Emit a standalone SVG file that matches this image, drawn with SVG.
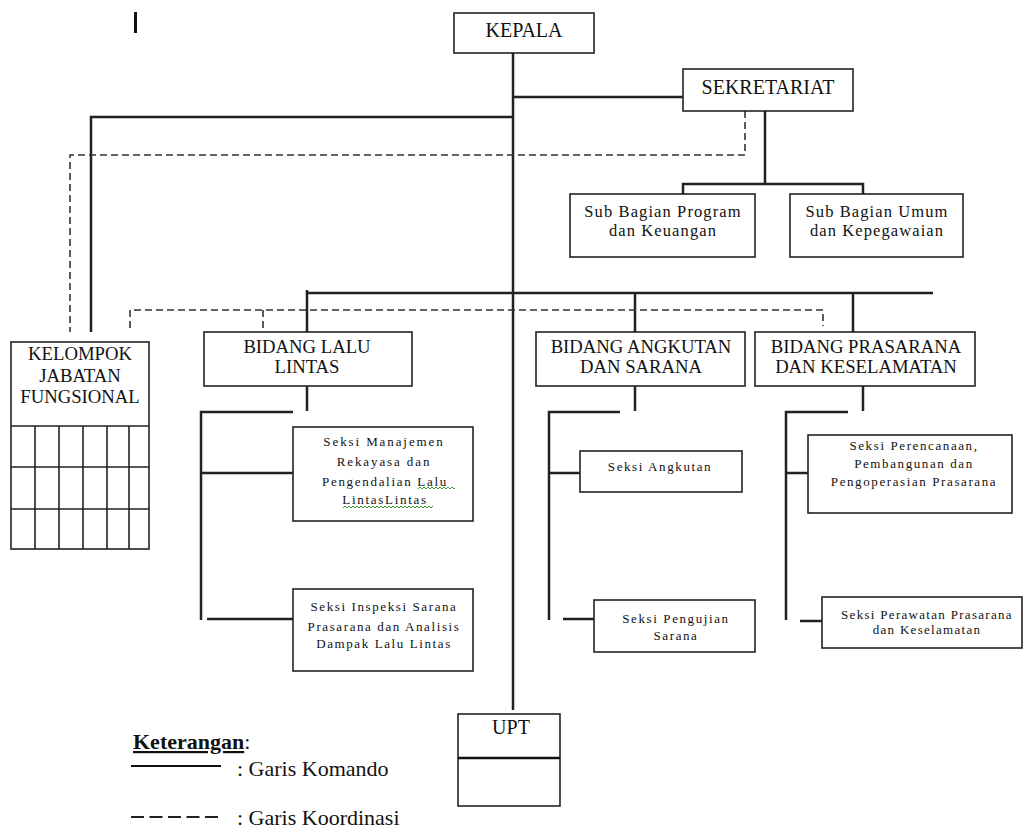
<svg xmlns="http://www.w3.org/2000/svg" width="1027" height="829" viewBox="0 0 1027 829">
<style>
.box{fill:#fff;stroke:#222;stroke-width:1.6}
.cmd{fill:none;stroke:#222;stroke-width:2.5}
.crd{fill:none;stroke:#333;stroke-width:1.6;stroke-dasharray:7 4}
text{fill:#111}
.t20{font-size:20px;text-anchor:middle}
.t19{font-size:18.7px;text-anchor:middle}
.t16{font-size:16.5px;text-anchor:middle;letter-spacing:1.1px}
.t13{font-size:13px;text-anchor:middle;letter-spacing:1.6px}
.lg{font-size:22px}
.sq{fill:none;stroke:#3a9a3a;stroke-width:1}
</style>
<rect x="134" y="12" width="3" height="21" fill="#111"/>
<g id="connectors">
<path class="cmd" d="M513 53V710"/>
<path class="cmd" d="M513 97H683"/>
<path class="cmd" d="M513 117H91V332"/>
<path class="cmd" d="M765 111V184M683 194V184H863V194"/>
<path class="crd" d="M745 111V155H70V332"/>
<path class="cmd" d="M307 290V332M307 293H933M635 293V332M853 293V332"/>
<path class="crd" d="M130 328V310H823V326M263 310V328"/>
<path class="cmd" d="M307 386V411M293 412H201V620M201 473H293M207 619H293"/>
<path class="cmd" d="M635 386V411M620 412H549V620M549 473H580M563 619H594"/>
<path class="cmd" d="M863 386V411M848 412H786V620M786 473H808M800 621H822"/>
</g>
<g font-family="'Liberation Serif', 'Tinos', 'DejaVu Serif', serif">
<g id="kepala"><rect class="box" x="454" y="13" width="140" height="40"/><text class="t20" x="524" y="37">KEPALA</text></g>
<g id="sekretariat"><rect class="box" x="683" y="69" width="170" height="42"/><text class="t20" x="768" y="94">SEKRETARIAT</text></g>
<g id="subbag-program"><rect class="box" x="570" y="194" width="185" height="63"/><text class="t16" x="663" y="217">Sub Bagian Program</text><text class="t16" x="663" y="236">dan Keuangan</text></g>
<g id="subbag-umum"><rect class="box" x="790" y="194" width="173" height="63"/><text class="t16" x="877" y="217">Sub Bagian Umum</text><text class="t16" x="877" y="236">dan Kepegawaian</text></g>
<g id="kelompok">
<rect class="box" x="11" y="342" width="138" height="207"/>
<path fill="none" stroke="#222" stroke-width="1.6" d="M11 426H149M11 467H149M11 509H149M35 426V549M59 426V549M83 426V549M107 426V549M129 426V549"/>
<text class="t19" x="80" y="360">KELOMPOK</text><text class="t19" x="80" y="382">JABATAN</text><text class="t19" x="80" y="403">FUNGSIONAL</text>
</g>
<g id="bidang-lalu"><rect class="box" x="204" y="332" width="208" height="54"/><text class="t19" x="307" y="353">BIDANG LALU</text><text class="t19" x="307" y="373">LINTAS</text></g>
<g id="bidang-angkutan"><rect class="box" x="536" y="332" width="209" height="54"/><text class="t19" x="641" y="353">BIDANG ANGKUTAN</text><text class="t19" x="641" y="373">DAN SARANA</text></g>
<g id="bidang-prasarana"><rect class="box" x="755" y="332" width="220" height="54"/><text class="t19" x="866" y="353">BIDANG PRASARANA</text><text class="t19" x="866" y="373">DAN KESELAMATAN</text></g>
<g id="seksi-manajemen"><rect class="box" x="293" y="427" width="180" height="94"/>
<text class="t13" x="384" y="446" style="letter-spacing:1.9px">Seksi Manajemen</text>
<text class="t13" x="384" y="466" style="letter-spacing:1.9px">Rekayasa dan</text>
<text class="t13" x="385" y="486" style="letter-spacing:1.7px">Pengendalian Lalu</text>
<text class="t13" x="385" y="504" style="letter-spacing:1.7px">LintasLintas</text>
<path class="sq" d="M418 489l2-2 2 2 2-2 2 2 2-2 2 2 2-2 2 2 2-2 2 2 2-2 2 2 2-2 2 2 2-2 2 2 2-2 2 2 1-1"/>
<path class="sq" d="M343 508l2-2 2 2 2-2 2 2 2-2 2 2 2-2 2 2 2-2 2 2 2-2 2 2 2-2 2 2 2-2 2 2 2-2 2 2 2-2 2 2 2-2 2 2 2-2 2 2 2-2 2 2 2-2 2 2 2-2 2 2 2-2 2 2 2-2 2 2 2-2 2 2 2-2 2 2 2-2 2 2 2-2 2 2 2-2 2 2 2-2"/>
</g>
<g id="seksi-inspeksi"><rect class="box" x="293" y="589" width="180" height="82"/>
<text class="t13" x="384" y="611">Seksi Inspeksi Sarana</text>
<text class="t13" x="384" y="631">Prasarana dan Analisis</text>
<text class="t13" x="384" y="648">Dampak Lalu Lintas</text></g>
<g id="seksi-angkutan"><rect class="box" x="580" y="451" width="162" height="41"/><text class="t13" x="660" y="471">Seksi Angkutan</text></g>
<g id="seksi-pengujian"><rect class="box" x="594" y="600" width="161" height="52"/><text class="t13" x="676" y="623">Seksi Pengujian</text><text class="t13" x="676" y="640">Sarana</text></g>
<g id="seksi-perencanaan"><rect class="box" x="808" y="435" width="204" height="78"/>
<text class="t13" x="914" y="450">Seksi Perencanaan,</text>
<text class="t13" x="914" y="468">Pembangunan dan</text>
<text class="t13" x="914" y="486">Pengoperasian Prasarana</text></g>
<g id="seksi-perawatan"><rect class="box" x="822" y="597" width="200" height="51"/>
<text class="t13" x="927" y="619" style="letter-spacing:1.3px">Seksi Perawatan Prasarana</text>
<text class="t13" x="927" y="634" style="letter-spacing:1.3px">dan Keselamatan</text></g>
<g id="upt"><rect class="box" x="458" y="714" width="102" height="92"/><path d="M458 758H560" stroke="#111" stroke-width="2.6"/><text class="t20" x="511" y="734">UPT</text></g>
<g id="legend">
<text class="lg" x="133" y="749" font-weight="bold"><tspan text-decoration="underline">Keterangan</tspan><tspan font-weight="normal">:</tspan></text>
<path d="M131 766H221" stroke="#111" stroke-width="2.2"/>
<text class="lg" x="237" y="776">: Garis Komando</text>
<path d="M131 817H218" stroke="#222" stroke-width="2.2" stroke-dasharray="13 5.5"/>
<text class="lg" x="237" y="825">: Garis Koordinasi</text>
</g>
</g>
</svg>
